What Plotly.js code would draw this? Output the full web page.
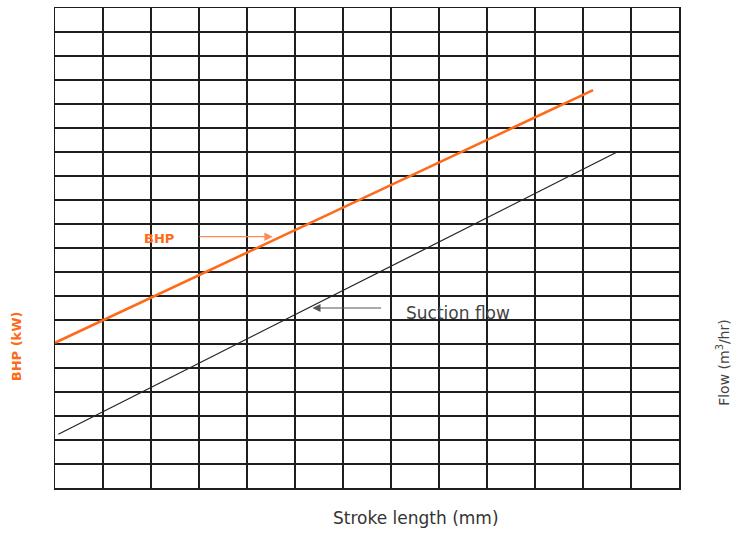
<!DOCTYPE html>
<html>
<head>
<meta charset="utf-8">
<script src="https://cdn.plot.ly/plotly-3.0.1.min.js"></script>
<style>html,body{margin:0;padding:0;background:#fff;}#chart{width:732px;height:533px;}</style>
</head>
<body>
<div id="chart"></div>
<script>
// Values, in grid units (13 x 20 grid, no tick labels)
const bhpStroke = [0, 11.21];
const bhpValues = [6.05, 16.58];
const flowStroke = [0.07, 11.70];
const flowValues = [2.24, 13.99];

const xTitle = 'Stroke length (mm)';
const yLeftTitle = 'BHP (kW)';
const yRightTitle = 'Flow (m<sup>3</sup>/hr)';
const bhpLabel = 'BHP';
const flowLabel = 'Suction flow';

const orange = '#ff6a1a';
const font = 'DejaVu Sans, Verdana, sans-serif';

const traces = [
  {x: bhpStroke, y: bhpValues, mode: 'lines', name: 'BHP',
   line: {color: orange, width: 2.6}, hoverinfo: 'skip'},
  {x: flowStroke, y: flowValues, mode: 'lines', name: 'Suction flow',
   line: {color: '#222', width: 1.2}, hoverinfo: 'skip'}
];

const axisBase = {
  showgrid: true, gridcolor: '#1e1e1e', gridwidth: 1.5,
  zeroline: false, showline: true, linecolor: '#1e1e1e', linewidth: 1.5, mirror: true,
  showticklabels: false, ticks: '', fixedrange: true
};

const layout = {
  width: 732, height: 533,
  margin: {l: 55, r: 53, t: 8, b: 45},
  paper_bgcolor: '#fff', plot_bgcolor: '#fff',
  showlegend: false,
  font: {family: font, color: '#333'},
  xaxis: Object.assign({}, axisBase, {range: [0, 13], dtick: 1, tick0: 0}),
  yaxis: Object.assign({}, axisBase, {range: [0, 20], dtick: 1, tick0: 0}),
  annotations: [
    {text: xTitle, xref: 'paper', yref: 'paper', x: 0.5785, y: -0.0625,
     xanchor: 'center', yanchor: 'middle', showarrow: false,
     font: {family: font, size: 17, color: '#333'}},
    {text: '<b>' + yLeftTitle + '</b>', xref: 'paper', yref: 'paper', x: -0.0605, y: 0.296,
     xanchor: 'center', yanchor: 'middle', textangle: -90, showarrow: false,
     font: {family: font, size: 13, color: orange}},
    {text: yRightTitle, xref: 'paper', yref: 'paper', x: 1.0715, y: 0.262,
     xanchor: 'center', yanchor: 'middle', textangle: -90, showarrow: false,
     font: {family: font, size: 14, color: '#444'}},
    {text: '<b>' + bhpLabel + '</b>', xref: 'x', yref: 'y', x: 2.166, y: 10.39,
     xanchor: 'center', yanchor: 'middle', showarrow: false,
     font: {family: font, size: 13, color: orange}},
    {text: '', xref: 'x', yref: 'y', x: 4.537, y: 10.47, axref: 'x', ayref: 'y', ax: 2.978, ay: 10.47,
     showarrow: true, arrowhead: 2, arrowsize: 1.4, arrowwidth: 1.2, arrowcolor: '#ff8a55'},
    {text: flowLabel, xref: 'x', yref: 'y', x: 7.273, y: 7.29,
     xanchor: 'left', yanchor: 'middle', showarrow: false,
     font: {family: font, size: 17, color: '#444'}},
    {text: '', xref: 'x', yref: 'y', x: 5.364, y: 7.50, axref: 'x', ayref: 'y', ax: 6.824, ay: 7.50,
     showarrow: true, arrowhead: 2, arrowsize: 1.6, arrowwidth: 1, arrowcolor: '#555'}
  ]
};

Plotly.newPlot('chart', traces, layout, {displayModeBar: false, staticPlot: true});
</script>
</body>
</html>
